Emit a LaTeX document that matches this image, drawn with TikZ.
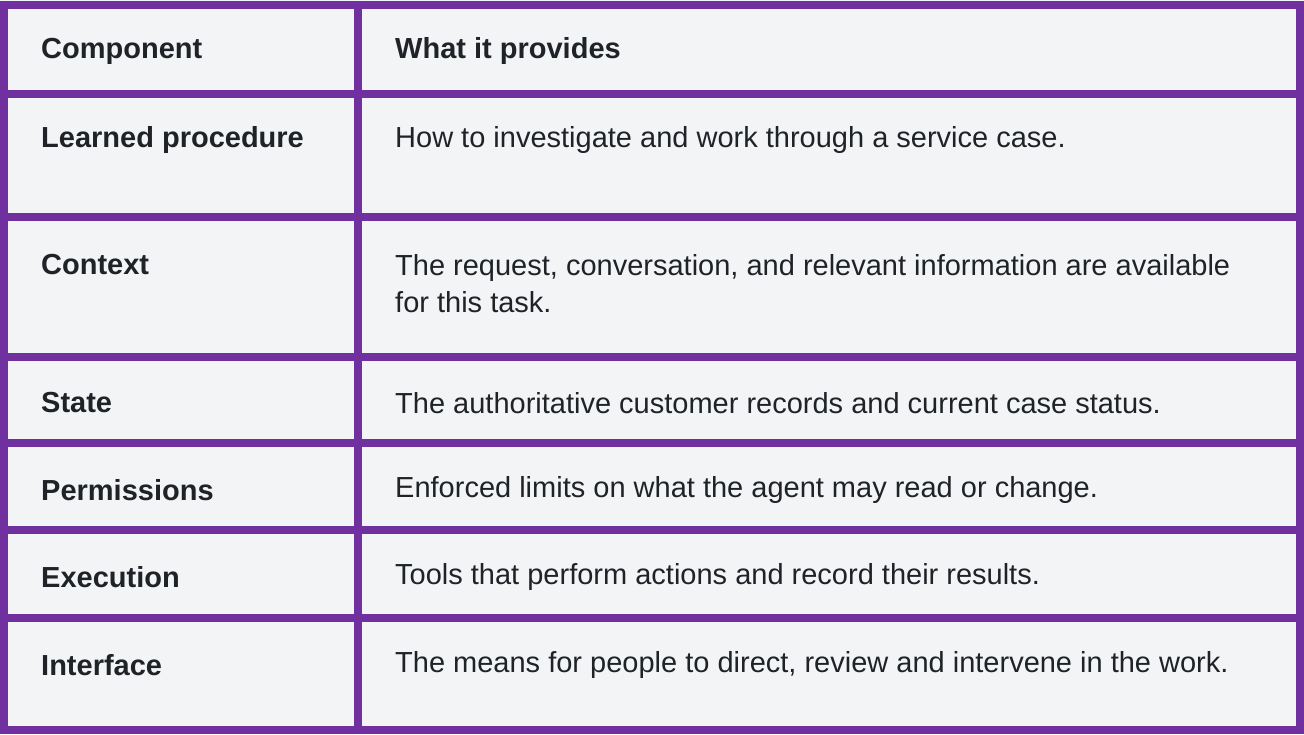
\documentclass[tikz,border=0pt]{standalone}
\usepackage{fontspec}
\setmainfont{Liberation Sans}
\definecolor{bd}{HTML}{7030A0}
\definecolor{bg}{HTML}{F3F4F6}
\definecolor{tx}{HTML}{1F2328}
\begin{document}
\begin{tikzpicture}[x=1pt,y=-1pt,
  t/.style={anchor=west,text=tx,font=\fontsize{29}{37}\selectfont,inner sep=0pt},
  h/.style={t,font=\fontsize{29}{37}\selectfont\bfseries}]
\useasboundingbox (0,0) rectangle (1304,734);
\fill[bg] (0,0) rectangle (1304,734);
\node[h] (h1) at (41,51) {Component};
\node[h] (h2) at (395,51) {What it provides};
\node[h] (a1) at (41,140) {Learned procedure};
\node[t] (b1) at (395,140) {How to investigate and work through a service case.};
\node[h] (a2) at (41,265) {Context};
\node[t] (b2) at (395,284) {\parbox{900pt}{\raggedright The request, conversation, and relevant information are available\\for this task.}};
\node[h] (a3) at (41,403) {State};
\node[t] (b3) at (395,403) {The authoritative customer records and current case status.};
\node[h] (a4) at (41,490) {Permissions};
\node[t] (b4) at (395,490) {Enforced limits on what the agent may read or change.};
\node[h] (a5) at (41,577) {Execution};
\node[t] (b5) at (395,577) {Tools that perform actions and record their results.};
\node[h] (a6) at (41,665) {Interface};
\node[t] (b6) at (395,665) {The means for people to direct, review and intervene in the work.};
\begin{scope}[bd,line width=8pt]
\draw (4,5) rectangle (1300,730);
\draw (358,5) -- (358,730);
\foreach \y in {94,217,357,443,530,618} \draw (4,\y) -- (1300,\y);
\end{scope}
\end{tikzpicture}
\end{document}
